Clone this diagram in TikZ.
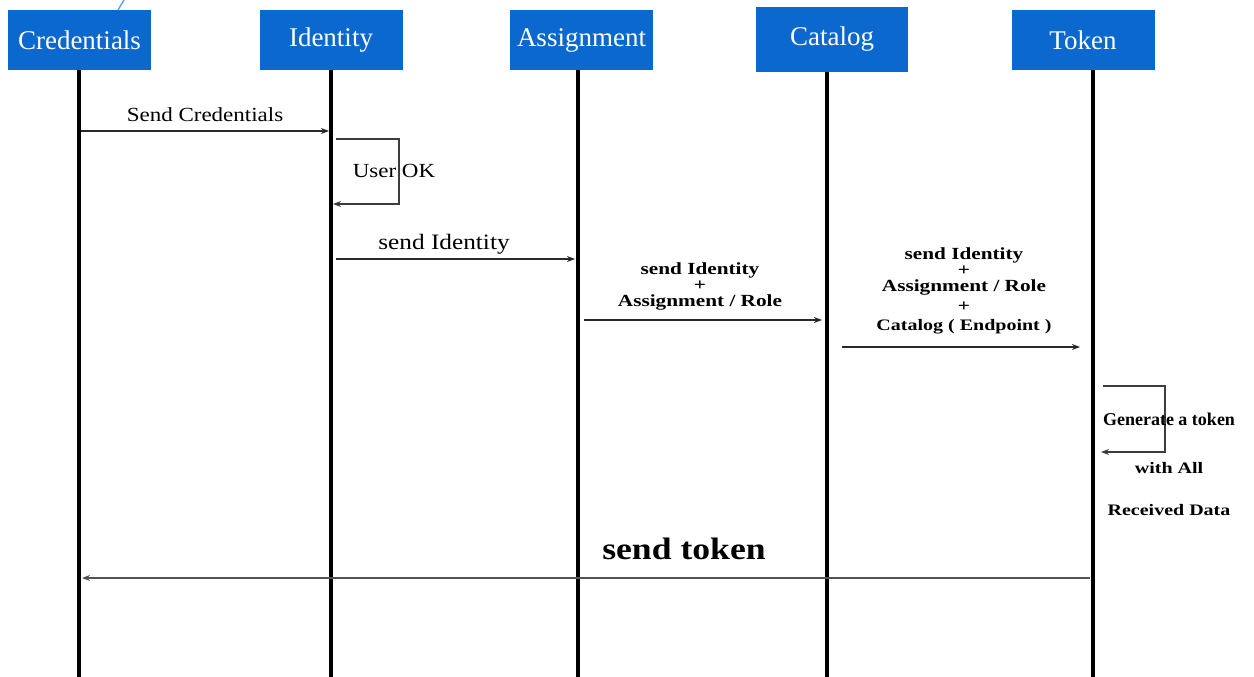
\documentclass[tikz,border=0pt]{standalone}
\usepackage{fontspec}
\setmainfont{Liberation Serif}
\newfontfamily\lblfont[FakeStretch=1.15]{Liberation Serif}
\newfontfamily\widefont[FakeStretch=1.25]{Liberation Serif}
\usepackage{xcolor}
\usetikzlibrary{arrows.meta}
\definecolor{boxblue}{RGB}{10,104,206}
\definecolor{inkgray}{RGB}{40,40,40}

\begin{document}
\begin{tikzpicture}[x=1pt,y=-1pt,>={Stealth[length=8pt,width=6pt]}]%
  \tikzstyle{head}=[rectangle,fill=boxblue,text=white,minimum width=143,minimum height=60,inner sep=2,font=\fontsize{27}{30}\selectfont]
  \tikzstyle{life}=[line width=4pt,black]
  \tikzstyle{msg}=[->,line width=1.6pt,inkgray]
  \tikzstyle{loopl}=[->,line width=1.6pt,inkgray!90]
  \tikzstyle{lbl}=[inner sep=0,font=\lblfont\fontsize{20}{24}\selectfont]
  \tikzstyle{blbl}=[inner sep=0,align=center,font=\widefont\bfseries\fontsize{17}{16}\selectfont]
  \useasboundingbox (0,0) rectangle (1254,677);
  % heads
  \node(cred)[head] at (79.5,40){Credentials};
  \node(iden)[head] at (331,40){Identity};
  \node(asgn)[head] at (581.5,40){Assignment};
  \node(cat)[head,minimum width=152,minimum height=65] at (832,39.5){Catalog};
  \node(tok)[head] at (1083,40){Token};
  \coordinate(tick1) at (118,10);
  \coordinate(tick2) at (124,0);
  \draw[line width=1.5pt,cyan!60!blue!60] (tick1) -- (tick2);
  % lifelines
  \coordinate(credb) at (79,677);
  \coordinate(idenb) at (331,677);
  \coordinate(asgnb) at (578,677);
  \coordinate(catb) at (827,677);
  \coordinate(tokb) at (1093,677);
  \draw[life] (cred.south -| credb) -- (credb);
  \draw[life] (iden.south -| idenb) -- (idenb);
  \draw[life] (asgn.south -| asgnb) -- (asgnb);
  \draw[life] (cat.south -| catb) -- (catb);
  \draw[life] (tok.south -| tokb) -- (tokb);
  % messages
  \coordinate(m1a) at (81,131); \coordinate(m1b) at (329,131);
  \draw[msg] (m1a) -- (m1b);
  \node(m1)[lbl] at (205,115){Send Credentials};
  \coordinate(l1a) at (336,139); \coordinate(l1b) at (333,204);
  \draw[loopl] (l1a) -- (399,139) -- (399,204) -- (l1b);
  \node(ok)[lbl] at (394,171){User OK};
  \coordinate(m2a) at (336,259); \coordinate(m2b) at (575,259);
  \draw[msg] (m2a) -- (m2b);
  \node(m2)[lbl,font=\lblfont\fontsize{22}{24}\selectfont] at (444,244){send Identity};
  \coordinate(m3a) at (584,320); \coordinate(m3b) at (822,320);
  \draw[msg] (m3a) -- (m3b);
  \node(m3)[blbl] at (700,286){send Identity\\+\\Assignment / Role};
  \coordinate(m4a) at (842,347); \coordinate(m4b) at (1080,347);
  \draw[msg] (m4a) -- (m4b);
  \node(m4)[blbl] at (964,291){send Identity\\+\\Assignment / Role\\[4pt]+\\[3pt]{\fontsize{16}{16}\selectfont Catalog ( Endpoint )}};
  \coordinate(l2a) at (1103,386); \coordinate(l2b) at (1101,452);
  \draw[loopl] (l2a) -- (1165,386) -- (1165,452) -- (l2b);
  \node(gen)[lbl,font=\bfseries\fontsize{18}{20}\selectfont] at (1169,419){Generate a token};
  \node(wall)[lbl,font=\widefont\bfseries\fontsize{16}{18}\selectfont] at (1169,468){with All};
  \node(rdata)[lbl,font=\widefont\bfseries\fontsize{16}{18}\selectfont] at (1169,510){Received Data};
  \coordinate(m5a) at (1090,578); \coordinate(m5b) at (82,578);
  \draw[->,line width=2.6pt,inkgray!80] (m5a) -- (m5b);
  \node(m5)[lbl,font=\lblfont\bfseries\fontsize{31}{32}\selectfont] at (684,549){send token};
\end{tikzpicture}
\end{document}
